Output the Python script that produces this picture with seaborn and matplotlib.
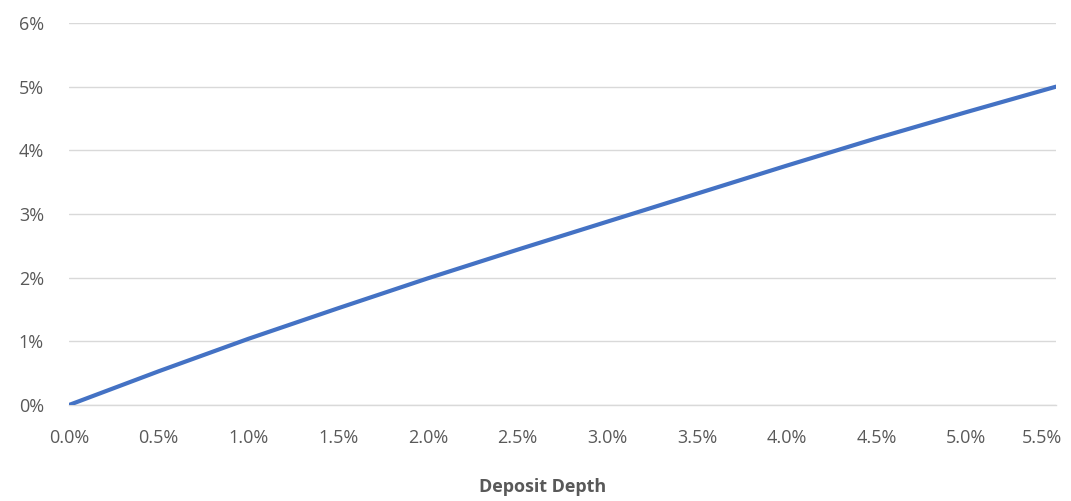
import matplotlib
matplotlib.use("Agg")
import matplotlib.pyplot as plt
import matplotlib.transforms as mtransforms
import seaborn as sns
import pandas as pd
from matplotlib.ticker import PercentFormatter, FixedLocator

# Deposit depth (x) and resulting rate (y), both in percent
deposit_depth = [0.0, 0.5, 1.0, 1.5, 2.0, 2.5, 3.0, 3.5, 4.0, 4.5, 5.0, 5.5]
rate = [0.0, 0.53, 1.04, 1.52, 1.99, 2.44, 2.88, 3.32, 3.76, 4.19, 4.60, 5.0]
x_ticks = [0.0, 0.5, 1.0, 1.5, 2.0, 2.5, 3.0, 3.5, 4.0, 4.5, 5.0, 5.5]
y_ticks = [0, 1, 2, 3, 4, 5, 6]

df = pd.DataFrame({"Deposit Depth": deposit_depth, "Rate": rate})

sns.set_theme(style="white")
plt.rcParams["font.family"] = ["Open Sans", "DejaVu Sans"]

text_color = "#595959"
fig, ax = plt.subplots(figsize=(10.71, 5.01), dpi=100)
fig.subplots_adjust(left=69 / 1071, right=1056 / 1071, top=1 - 23 / 501, bottom=1 - 405 / 501)

sns.lineplot(data=df, x="Deposit Depth", y="Rate", ax=ax, color="#4472C4",
             linewidth=3.0, solid_capstyle="round", zorder=3)

ax.set_xlim(0, 5.5)
ax.set_ylim(0, 6)
ax.xaxis.set_major_locator(FixedLocator(x_ticks))
ax.yaxis.set_major_locator(FixedLocator(y_ticks))
ax.xaxis.set_major_formatter(PercentFormatter(decimals=1))
ax.yaxis.set_major_formatter(PercentFormatter(decimals=0))

ax.grid(axis="y", color="#D9D9D9", linewidth=1.0)
ax.grid(axis="x", visible=False)
for side in ["top", "right", "left"]:
    ax.spines[side].set_visible(False)
ax.spines["bottom"].set_color("#D9D9D9")
ax.spines["bottom"].set_linewidth(1.0)

ax.tick_params(axis="both", length=0, colors=text_color, labelsize=13)
ax.tick_params(axis="y", pad=18)
ax.tick_params(axis="x", pad=17)

# keep the last x tick label inside the figure edge
fig.canvas.draw()
xlabels = ax.get_xticklabels()
last = xlabels[-1]
last.set_transform(last.get_transform() +
                   mtransforms.ScaledTranslation(-14 / 100, 0, fig.dpi_scale_trans))

ax.set_xlabel("Deposit Depth", fontsize=13, fontweight="bold", color=text_color)
ax.xaxis.set_label_coords(0.480, -0.19)
ax.set_ylabel("")

fig.savefig("out.png", dpi=100, facecolor="white")
